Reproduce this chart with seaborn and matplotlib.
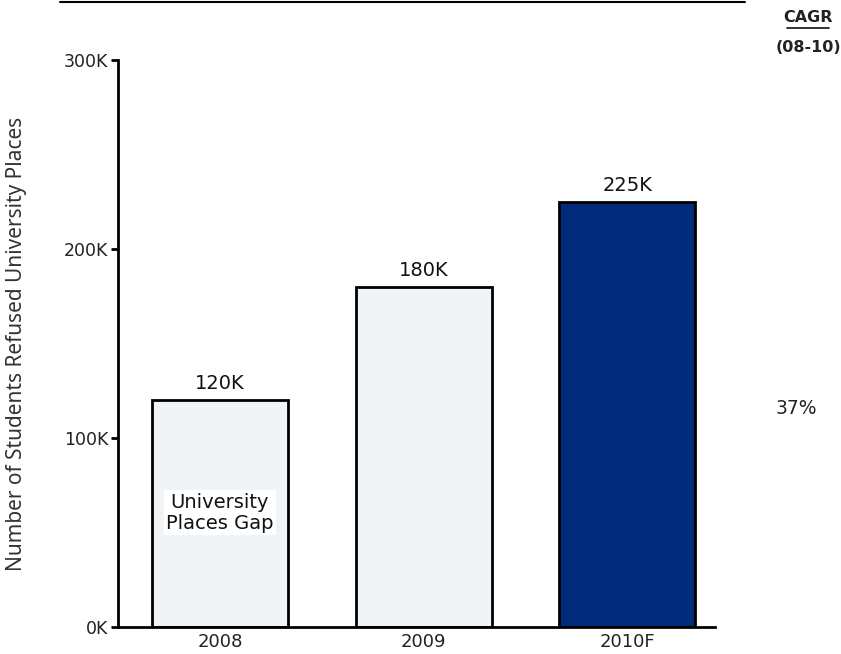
import matplotlib
matplotlib.use("Agg")
import matplotlib.pyplot as plt
import seaborn as sns
import pandas as pd

years = ["2008", "2009", "2010F"]
refused = [120000, 180000, 225000]
bar_labels = ["120K", "180K", "225K"]
bar_colors = ["#F0F4F7", "#F0F4F7", "#002A7A"]
yticks = [0, 100000, 200000, 300000]
ytick_labels = ["0K", "100K", "200K", "300K"]
cagr_value = "37%"

sns.set_theme(style="white")
plt.rcParams["font.family"] = ["DejaVu Sans"]

df = pd.DataFrame({"year": years, "refused": refused})

fig = plt.figure(figsize=(8.41, 6.54), dpi=100)
ax = fig.add_axes([118 / 841, 27 / 654, (715 - 118) / 841, (627 - 60) / 654])

sns.barplot(data=df, x="year", y="refused", hue="year", palette=bar_colors,
            width=0.667, edgecolor="black", linewidth=2, legend=False, ax=ax,
            saturation=1)

ax.set_xlim(-0.5, 2.43)
ax.set_ylim(0, 300000)
ax.set_yticks(yticks)
ax.set_yticklabels(ytick_labels, fontsize=12.5, color="#222222")
ax.tick_params(axis="y", direction="out", length=5, width=2, color="black", pad=2, left=True)
ax.tick_params(axis="x", length=0, labelsize=13, pad=4.5, labelcolor="#222222")
for s in ["top", "right"]:
    ax.spines[s].set_visible(False)
for s in ["left", "bottom"]:
    ax.spines[s].set_visible(True)
    ax.spines[s].set_color("black")
    ax.spines[s].set_linewidth(2)
ax.set_xlabel("")
ax.set_ylabel("Number of Students Refused University Places", fontsize=15,
              color="#333333", family=["Noto Sans", "DejaVu Sans"], va="center")
ax.yaxis.set_label_coords((17 - 118) / 597, 0.5)

for i, (v, lab) in enumerate(zip(refused, bar_labels)):
    ax.annotate(lab, (i, v), xytext=(0, 5), textcoords="offset points",
                ha="center", va="bottom", fontsize=14, color="#111111")

ax.text(0, 60500, "University\nPlaces Gap", ha="center", va="center", fontsize=14,
        color="#111111", linespacing=1.15,
        bbox=dict(facecolor="white", edgecolor="none", pad=1.5))

fig.add_artist(plt.Line2D([60 / 841, 745 / 841], [1 - 2 / 654, 1 - 2 / 654],
                          color="black", linewidth=1.5, transform=fig.transFigure))
fig.text(808 / 841, 1 - 18 / 654, "CAGR", ha="center", va="center", fontsize=11.5,
         fontweight="bold", color="#222222")
fig.add_artist(plt.Line2D([787 / 841, 829 / 841], [1 - 28 / 654, 1 - 28 / 654],
                          color="#222222", linewidth=1.3, transform=fig.transFigure))
fig.text(808 / 841, 1 - 47 / 654, "(08-10)", ha="center", va="center", fontsize=11.5,
         fontweight="bold", color="#222222")
fig.text(796 / 841, 1 - 408 / 654, cagr_value, ha="center", va="center", fontsize=13.5,
         color="#222222")

fig.savefig("out.png", dpi=100)
